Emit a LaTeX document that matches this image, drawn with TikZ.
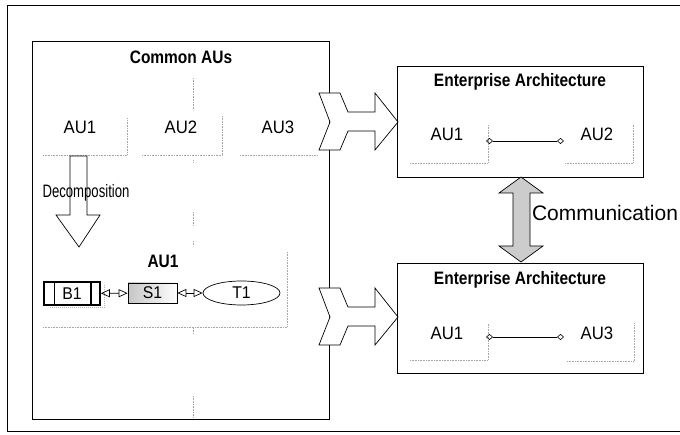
\documentclass[tikz,border=0pt]{standalone}
\usepackage{fontspec}
\setmainfont{Liberation Sans}
\newfontfamily\condfont[FakeStretch=0.86]{Liberation Sans}
\newfontfamily\aufont[FakeStretch=0.93]{Liberation Sans}
\newfontfamily\narrowfont[FakeStretch=0.73]{Liberation Sans}
\usetikzlibrary{arrows.meta,shapes.geometric}
\begin{document}
\begin{tikzpicture}[x=1pt,y=-1pt,
  frame/.style={draw=black,line width=0.8pt},
  guide/.style={draw=gray!70,densely dotted,line width=0.6pt},
  ttl/.style={font=\condfont\bfseries\fontsize{18}{18}\selectfont,inner sep=0pt},
  aulbl/.style={font=\aufont\fontsize{18}{18}\selectfont,inner sep=0pt},
  blockarrow/.style={draw=black,line width=0.7pt,fill=white,line join=miter},
  dbl/.style={draw=black,line width=0.7pt,{Triangle[open,length=9pt,width=8pt]}-{Triangle[open,length=9pt,width=8pt]}},
  link/.style={draw=black,line width=0.6pt,{Diamond[open,length=7pt,width=6pt]}-{Diamond[open,length=7pt,width=6pt]}},
  smallbox/.style={draw=black,line width=0.7pt,inner sep=0pt,font=\aufont\fontsize{17}{17}\selectfont}
]
\useasboundingbox (0,0) rectangle (680,435);
% outer frame
\draw[frame] (680,5) -- (7,5) -- (7,431) -- (680,431);

% Common AUs box
\node[frame,minimum width=297pt,minimum height=378pt,inner sep=0pt] (common) at (180.5,230) {};
\node[ttl] (ctitle) at (181,57) {Common AUs};

% guides in common box
\draw[guide] (193,78) -- (193,110);
\draw[guide] (193,160) -- (193,163);
\draw[guide] (193,212) -- (193,226);
\draw[guide] (193,241) -- (193,245);
\draw[guide] (193,328) -- (193,334);
\draw[guide] (193,396) -- (193,417);
\draw[guide] (43,155) -- (127,155) -- (127,118);
\draw[guide] (142,155) -- (222,155) -- (222,116);
\draw[guide] (240,155) -- (318,155);

\node[aulbl] (au1) at (80,127) {AU1};
\node[aulbl] (au2) at (181,127) {AU2};
\node[aulbl] (au3) at (278,127) {AU3};

% decomposition arrow
\draw[blockarrow] (70,156) -- (87,156) -- (87,215) -- (100,215) -- (79,247) -- (56,215) -- (70,215) -- cycle;
\node[font=\narrowfont\fontsize{18}{18}\selectfont,inner sep=0pt] (decomp) at (86,193) {Decomposition};

% AU1 sub area
\draw[guide] (43,327) -- (287,327) -- (287,252);
\node[ttl] (subttl) at (163,261) {AU1};

% B1 S1 T1
\draw[draw=gray!60,densely dotted,line width=1pt] (50,308) -- (104,308) -- (104,285);
\node[smallbox,line width=1.8pt,minimum width=56pt,minimum height=23pt,fill=white] (b1) at (72,293.5) {B1};
\draw[line width=1.2pt] ([xshift=11pt]b1.north west) -- ([xshift=11pt]b1.south west);
\draw[line width=1.2pt] ([xshift=-10pt]b1.north east) -- ([xshift=-10pt]b1.south east);
\node[smallbox,minimum width=49pt,minimum height=20pt,left color=gray!45,right color=white] (s1) at (152.5,293) {S1};
\node[smallbox,ellipse,minimum width=77pt,minimum height=24pt] (t1) at (241.5,293) {T1};
\draw[dbl] (b1) -- (s1);
\draw[dbl] (s1) -- (t1);

% chevrons
\draw[blockarrow] (319,93) -- (340,93) -- (348,112) -- (375,112) -- (375,93) -- (398,122) -- (375,150) -- (375,131) -- (348,131) -- (340,150) -- (319,150) -- (330,122) -- cycle;
\draw[blockarrow] (319,288) -- (340,288) -- (348,307) -- (375,307) -- (375,288) -- (398,317) -- (375,345) -- (375,326) -- (348,326) -- (340,345) -- (319,345) -- (330,317) -- cycle;

% Enterprise Architecture 1
\node[frame,minimum width=246pt,minimum height=111pt,inner sep=0pt] (ea1) at (520,121.5) {};
\node[ttl] (ea1t) at (520,82) {Enterprise Architecture};
\node[aulbl] (ea1a) at (447,134) {AU1};
\node[aulbl] (ea1b) at (597,134) {AU2};
\draw[guide] (410,163) -- (488,163) -- (488,125);
\draw[guide] (565,163) -- (633,163) -- (633,125);
\coordinate (l1a) at (486,141);
\coordinate (l1b) at (564,141);
\draw[link] (l1a) -- (l1b);

% Enterprise Architecture 2
\node[frame,minimum width=246pt,minimum height=110pt,inner sep=0pt] (ea2) at (520,318) {};
\node[ttl] (ea2t) at (520,280) {Enterprise Architecture};
\node[aulbl] (ea2a) at (447,333) {AU1};
\node[aulbl] (ea2b) at (597,333) {AU3};
\draw[guide] (410,360) -- (488,360) -- (488,323);
\draw[guide] (567,361) -- (634,361) -- (634,323);
\coordinate (l2a) at (486,337);
\coordinate (l2b) at (564,337);
\draw[link] (l2a) -- (l2b);

% communication arrow
\draw[blockarrow,fill=gray!40] (521,177) -- (543,193) -- (530,193) -- (530,246) -- (543,246) -- (521,262) -- (499,246) -- (513,246) -- (513,193) -- (499,193) -- cycle;
\node[font=\fontsize{21}{21}\selectfont,inner sep=0pt] (comm) at (605,213) {Communication};
\end{tikzpicture}
\end{document}
